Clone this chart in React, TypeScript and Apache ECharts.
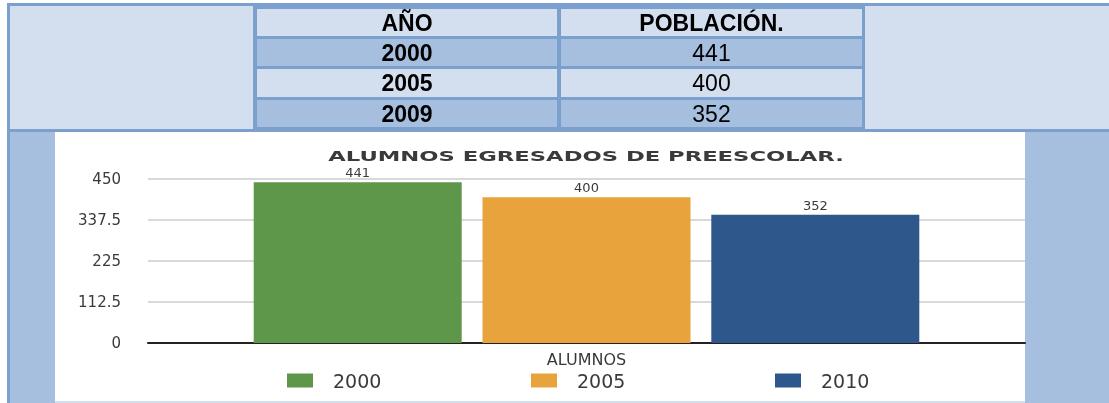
import React, { useEffect, useRef } from "react";
import * as echarts from "echarts";

// ---- data ----
const tableHeaders = ["AÑO", "POBLACIÓN."];
const tableYears = ["2000", "2005", "2009"];
const tablePopulation = [441, 400, 352];

const chartTitle = "ALUMNOS EGRESADOS DE PREESCOLAR.";
const categories = ["ALUMNOS"];
const seriesNames = ["2000", "2005", "2010"];
const seriesValues = [441, 400, 352];
const yMin = 0;
const yMax = 450;
const yInterval = 112.5;

// ---- styles ----
const seriesColors = ["#5E964A", "#E8A33D", "#2E588B"];
const BORDER = "#7BA0CD";
const LIGHT = "#D3DFEE";
const MID = "#A7BFDE";
const chartFont = '"DejaVu Sans", sans-serif';
const tableFont = '"Liberation Sans", Arial, sans-serif';

function rect(x: number, y: number, w: number, h: number, fill: string) {
  return { type: "rect", z: -10, silent: true, shape: { x, y, width: w, height: h }, style: { fill } };
}

function txt(text: string, x: number, y: number, size: number, weight: string, family: string, color: string, scaleX = 1) {
  return {
    type: "text",
    z: 100,
    x,
    y,
    scaleX,
    silent: true,
    style: {
      text,
      fill: color,
      fontSize: size,
      fontWeight: weight,
      fontFamily: family,
      align: "center",
      textAlign: "center",
      verticalAlign: "middle",
      textVerticalAlign: "middle",
    },
  };
}

export default function App() {
  const ref = useRef<HTMLDivElement | null>(null);

  useEffect(() => {
    if (!ref.current) return;
    const chart = echarts.init(ref.current, undefined, { renderer: "svg" });

    const colX = [407, 711.5];
    const rowY = [52.5, 83, 113.5];
    const rowTop = [39, 69, 100];
    const rowH = [27, 28, 27];
    const rowFill = [MID, LIGHT, MID];

    const graphics: any[] = [
      rect(7, 3, 1102, 129, BORDER),
      rect(7, 132, 3, 271, BORDER),
      rect(10, 132, 45, 271, MID),
      rect(55, 132, 970, 269, "#FFFFFF"),
      rect(55, 401, 970, 2, LIGHT),
      rect(1025, 132, 84, 271, MID),
      rect(10, 6, 243, 123, LIGHT),
      rect(865, 6, 244, 123, LIGHT),
      rect(257, 9, 300, 27, LIGHT),
      rect(561, 9, 301, 27, LIGHT),
    ];
    rowTop.forEach((t, i) => {
      graphics.push(rect(257, t, 300, rowH[i], rowFill[i]));
      graphics.push(rect(561, t, 301, rowH[i], rowFill[i]));
    });
    tableHeaders.forEach((h, i) => {
      graphics.push(txt(h, colX[i], 22.5, 23, "bold", tableFont, "#000"));
    });
    tableYears.forEach((yr, i) => {
      graphics.push(txt(yr, colX[0], rowY[i], 23, "bold", tableFont, "#000"));
      graphics.push(txt(String(tablePopulation[i]), colX[1], rowY[i], 23, "normal", tableFont, "#000"));
    });
    graphics.push(txt(chartTitle, 586, 156.5, 14, "bold", chartFont, "#3A3A3A", 1.62));

    const legendLefts = [287, 531, 775];

    chart.setOption({
      animation: false,
      graphic: { elements: graphics },
      grid: { left: 148, right: 84, top: 179, bottom: 60, containLabel: false },
      xAxis: {
        type: "category",
        data: categories,
        axisTick: { show: false },
        axisLine: { show: true, lineStyle: { color: "#222", width: 2 } },
        axisLabel: { fontSize: 16, color: "#3A3A3A", margin: 8, fontFamily: chartFont },
      },
      yAxis: {
        type: "value",
        min: yMin,
        max: yMax,
        interval: yInterval,
        axisLine: { show: false },
        axisTick: { show: false },
        axisLabel: { fontSize: 15, color: "#3A3A3A", margin: 27, fontFamily: chartFont },
        splitLine: { show: true, lineStyle: { color: "#D9D9D9", width: 2 } },
      },
      legend: seriesNames.map((n, i) => ({
        data: [n],
        left: legendLefts[i],
        top: 371,
        padding: 0,
        icon: "rect",
        itemWidth: 26,
        itemHeight: 14,
        formatter: (name: string) => `{t|${name}}`,
        textStyle: {
          rich: { t: { padding: [0, 0, 0, 15], fontSize: 19, fontFamily: chartFont, color: "#3A3A3A" } },
        },
      })),
      series: seriesNames.map((n, i) => ({
        name: n,
        type: "bar",
        data: [seriesValues[i]],
        barWidth: 208,
        barGap: "10%",
        itemStyle: { color: seriesColors[i] },
        label: {
          show: true,
          position: "top",
          distance: 3,
          fontSize: 13,
          color: "#3A3A3A",
          fontFamily: chartFont,
        },
      })),
    });

    return () => chart.dispose();
  }, []);

  return (
    <div
      ref={ref}
      style={{ position: "fixed", left: 0, top: 0, width: 1109, height: 403 }}
    />
  );
}
